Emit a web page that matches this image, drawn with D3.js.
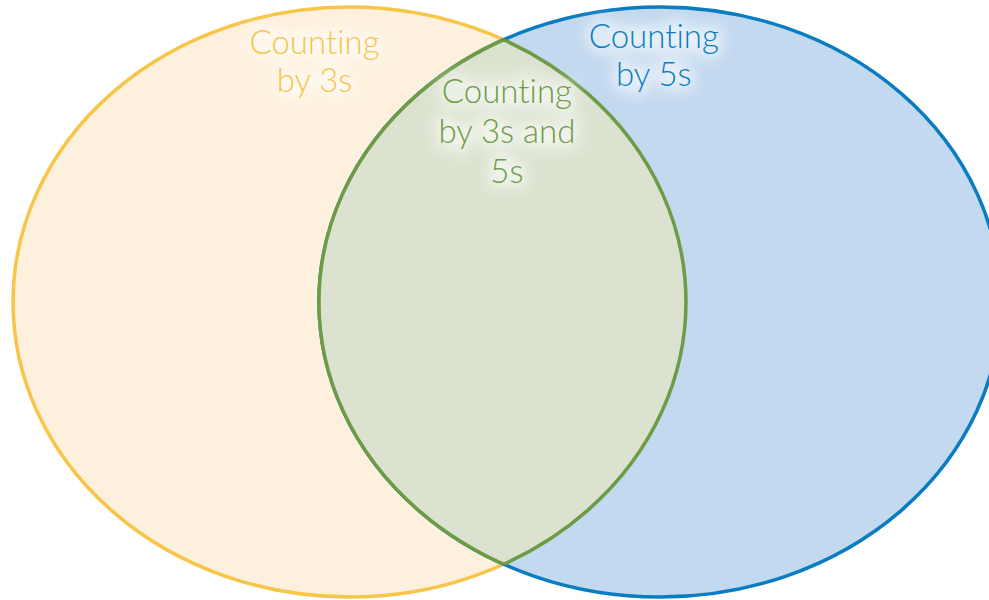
<!DOCTYPE html>
<html>
<head>
<meta charset="utf-8">
<script src="https://cdn.jsdelivr.net/npm/d3@7"></script>
<style>
  body { margin: 0; background: #fff; }
  svg text { font-family: "Lato", "Open Sans", sans-serif; font-weight: 300; font-variant-ligatures: none; font-feature-settings: "liga" 0; }
</style>
</head>
<body>
<svg width="989" height="600"></svg>
<script>
// sets and label lines
var setNames = ["Counting by 3s", "Counting by 5s"];
var setLabels = [["Counting", "by 3s"], ["Counting", "by 5s"]];
var overlapLabel = ["Counting", "by 3s and", "5s"];

var svg = d3.select("svg"),
    width = +svg.attr("width"),
    height = +svg.attr("height");

// layout in unit space -> pixels
var x = d3.scaleLinear().domain([0, 1]).range([0, width]),
    y = d3.scaleLinear().domain([0, 1]).range([0, height]);

var colors = {
  stroke: ["#f7c548", "#0a7dc2"],
  fill: ["#fdf0dc", "#c3d9ef"],
  mid: "#6e9b46",
  midFill: "#dbe3d0"
};

var ell = [
  { cx: x(0.3534), cy: y(0.5033), rx: x(0.3402), ry: y(0.4917) },
  { cx: x(0.6673), cy: y(0.5033), rx: x(0.3448), ry: y(0.4917) }
];

var defs = svg.append("defs");
ell.forEach(function(e, i) {
  defs.append("clipPath").attr("id", "clip" + i)
    .append("ellipse")
    .attr("cx", e.cx).attr("cy", e.cy).attr("rx", e.rx).attr("ry", e.ry);
});

var glow = defs.append("filter").attr("id", "glow")
  .attr("x", "-30%").attr("y", "-60%").attr("width", "160%").attr("height", "220%");
glow.append("feGaussianBlur").attr("stdDeviation", 7);

// base sets
svg.append("g").selectAll("ellipse")
  .data(ell)
  .enter().append("ellipse")
  .attr("cx", function(d) { return d.cx; })
  .attr("cy", function(d) { return d.cy; })
  .attr("rx", function(d) { return d.rx; })
  .attr("ry", function(d) { return d.ry; })
  .attr("fill", function(d, i) { return colors.fill[i]; })
  .attr("stroke", function(d, i) { return colors.stroke[i]; })
  .attr("stroke-width", 3.5);

// overlap
svg.append("ellipse")
  .attr("clip-path", "url(#clip1)")
  .attr("cx", ell[0].cx).attr("cy", ell[0].cy).attr("rx", ell[0].rx).attr("ry", ell[0].ry)
  .attr("fill", colors.midFill);

svg.append("g").selectAll("ellipse")
  .data(ell)
  .enter().append("ellipse")
  .attr("clip-path", function(d, i) { return "url(#clip" + (1 - i) + ")"; })
  .attr("cx", function(d) { return d.cx; })
  .attr("cy", function(d) { return d.cy; })
  .attr("rx", function(d) { return d.rx; })
  .attr("ry", function(d) { return d.ry; })
  .attr("fill", "none")
  .attr("stroke", colors.mid)
  .attr("stroke-width", 3.5);

// labels
function label(lines, cx, top, step, color) {
  var g = svg.append("g").attr("font-size", 33).attr("text-anchor", "middle");
  g.selectAll("text.halo")
    .data(lines)
    .enter().append("text")
    .attr("class", "halo")
    .attr("x", cx)
    .attr("y", function(d, i) { return top + i * step; })
    .attr("fill", "#fff")
    .attr("stroke", "#fff")
    .attr("stroke-width", 10)
    .attr("opacity", 0.6)
    .attr("filter", "url(#glow)")
    .text(function(d) { return d; });
  g.selectAll("text.lbl")
    .data(lines)
    .enter().append("text")
    .attr("class", "lbl")
    .attr("x", cx)
    .attr("y", function(d, i) { return top + i * step; })
    .attr("fill", color)
    .text(function(d) { return d; });
}

label(setLabels[0], x(0.318), y(0.09), 38, colors.stroke[0]);
label(setLabels[1], x(0.661), y(0.08), 38, colors.stroke[1]);
label(overlapLabel, x(0.5125), y(0.171), 40, colors.mid);
</script>
</body>
</html>
